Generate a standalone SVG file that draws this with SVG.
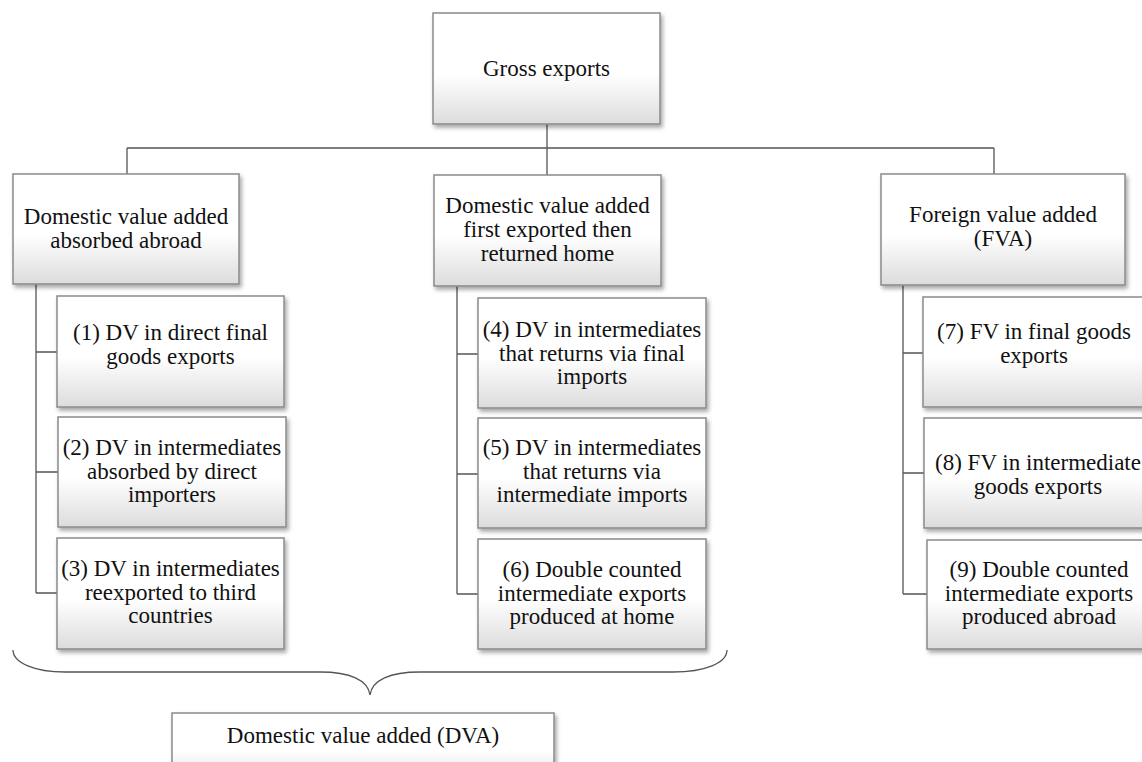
<svg xmlns="http://www.w3.org/2000/svg" width="1142" height="762" viewBox="0 0 1142 762">
<defs>
<linearGradient id="g" x1="0" y1="0" x2="0" y2="1">
<stop offset="0" stop-color="#ffffff"/>
<stop offset="0.55" stop-color="#ffffff"/>
<stop offset="1" stop-color="#dcdcdc"/>
</linearGradient>
<filter id="sh" x="-10%" y="-10%" width="125%" height="130%">
<feDropShadow dx="2" dy="3" stdDeviation="2.2" flood-color="#000" flood-opacity="0.35"/>
</filter>
<style>
.box{fill:url(#g);stroke:#8a8a8a;stroke-width:1.5;filter:url(#sh)}
.t{font-family:"Liberation Serif","Times New Roman",serif;font-size:23px;fill:#111;text-anchor:middle}
.ln{fill:none;stroke:#555;stroke-width:1.3}
</style>
</defs>
<rect width="1142" height="762" fill="#fff"/>
<g id="connectors">
<path class="ln" d="M547,124 V148 M127,148 H994 M127,148 V174 M547,148 V175 M994,148 V174"/>
<path class="ln" d="M36,284 V593 M36,352 H57 M36,472 H58 M36,593 H57"/>
<path class="ln" d="M457,286 V594 M457,354 H478 M457,474 H478 M457,594 H478"/>
<path class="ln" d="M903,285 V594 M903,353 H923 M903,473 H924 M903,594 H927"/>
<path class="ln" d="M13,650 C13,663 35,672 65,672 L320,672 C350,672 368,680 370,695 C372,680 390,672 420,672 L673,672 C705,672 727,663 727,650"/>
</g>
<g id="gross"><rect class="box" x="433" y="13" width="227" height="111"/><text class="t" x="546.5" y="76">Gross exports</text></g>
<g id="dva-abroad"><rect class="box" x="13" y="174" width="226" height="110"/><text class="t" x="126" y="224">Domestic value added</text><text class="t" x="126" y="248">absorbed abroad</text></g>
<g id="dva-home"><rect class="box" x="434" y="175" width="227" height="111"/><text class="t" x="547.5" y="213">Domestic value added</text><text class="t" x="547.5" y="237">first exported then</text><text class="t" x="547.5" y="261">returned home</text></g>
<g id="fva"><rect class="box" x="881" y="174" width="244" height="111"/><text class="t" x="1003" y="222">Foreign value added</text><text class="t" x="1003" y="246">(FVA)</text></g>
<g id="n1"><rect class="box" x="57" y="296" width="227" height="111"/><text class="t" x="170.5" y="340">(1) DV in direct final</text><text class="t" x="170.5" y="364">goods exports</text></g>
<g id="n2"><rect class="box" x="58" y="417" width="228" height="110"/><text class="t" x="172" y="455">(2) DV in intermediates</text><text class="t" x="172" y="479">absorbed by direct</text><text class="t" x="172" y="502">importers</text></g>
<g id="n3"><rect class="box" x="57" y="538" width="227" height="111"/><text class="t" x="170.5" y="576">(3) DV in intermediates</text><text class="t" x="170.5" y="600">reexported to third</text><text class="t" x="170.5" y="623">countries</text></g>
<g id="n4"><rect class="box" x="478" y="298" width="228" height="110"/><text class="t" x="592" y="337">(4) DV in intermediates</text><text class="t" x="592" y="361">that returns via final</text><text class="t" x="592" y="384">imports</text></g>
<g id="n5"><rect class="box" x="478" y="418" width="228" height="110"/><text class="t" x="592" y="455">(5) DV in intermediates</text><text class="t" x="592" y="479">that returns via</text><text class="t" x="592" y="502">intermediate imports</text></g>
<g id="n6"><rect class="box" x="478" y="539" width="228" height="110"/><text class="t" x="592" y="577">(6) Double counted</text><text class="t" x="592" y="601">intermediate exports</text><text class="t" x="592" y="624">produced at home</text></g>
<g id="n7"><rect class="box" x="923" y="297" width="228" height="110"/><text class="t" x="1034" y="339">(7) FV in final goods</text><text class="t" x="1034" y="363">exports</text></g>
<g id="n8"><rect class="box" x="924" y="418" width="228" height="110"/><text class="t" x="1038" y="470">(8) FV in intermediate</text><text class="t" x="1038" y="494">goods exports</text></g>
<g id="n9"><rect class="box" x="927" y="540" width="225" height="109"/><text class="t" x="1039" y="577">(9) Double counted</text><text class="t" x="1039" y="601">intermediate exports</text><text class="t" x="1039" y="624">produced abroad</text></g>
<g id="dva"><rect class="box" x="172" y="713" width="382" height="70"/><text class="t" x="363" y="743">Domestic value added (DVA)</text></g>
</svg>
